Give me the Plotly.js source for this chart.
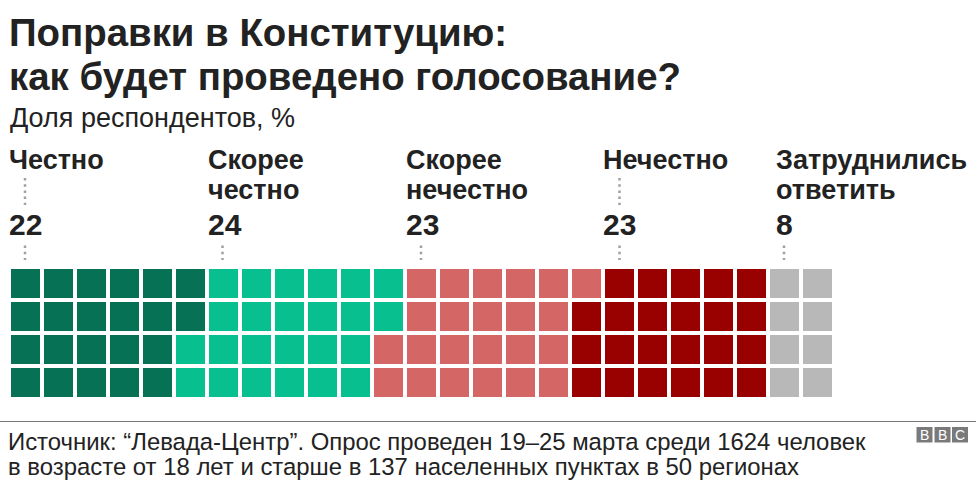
<!DOCTYPE html>
<html><head><meta charset="utf-8">
<script src="https://cdn.plot.ly/plotly-3.0.1.min.js"></script>
<style>html,body{margin:0;padding:0;background:#fff}#c{width:976px;height:485px}</style></head>
<body><div id="c"></div>
<script>
const categories = [["Честно"],["Скорее","честно"],["Скорее","нечестно"],["Нечестно"],["Затруднились","ответить"]];
const values = [22,24,23,23,8];
const colors = ["#067155","#08BF8F","#D46666","#990000","#B8B8B8"];
const labelPx = [8,207,405,602,775];
const leaderPx = [25,222.5,421,619.5,784];
const titleLines = ["Поправки в Конституцию:","как будет проведено голосование?"];
const subtitleText = "Доля респондентов, %";
const sourceLines = ["Источник: “Левада-Центр”. Опрос проведен 19–25 марта среди 1624 человек","в возрасте от 18 лет и старше в 137 населенных пунктах в 50 регионах"];
const ROWS = 4;

const W=976,H=485,L=9,R=834,T=267,B=399;
const px=x=>(x-L)/(R-L), py=y=>(B-y)/(B-T);
const ink="#222222", FF="Liberation Sans, Arial, sans-serif";

let n=0;
const traces=values.map((v,i)=>{
  const xs=[],ys=[];
  for(let k=0;k<v;k++,n++){xs.push(Math.floor(n/ROWS));ys.push(n%ROWS);}
  return {type:"scatter",mode:"markers",x:xs,y:ys,name:categories[i].join(" "),
    marker:{symbol:"square",size:29,color:colors[i],line:{width:0}},hoverinfo:"name"};
});

function note(text,x,y,size,opts={}){
  return Object.assign({text,xref:"paper",yref:"paper",x:px(x),y:py(y),xanchor:"left",yanchor:"middle",
    align:"left",showarrow:false,borderpad:0,font:{family:FF,size,color:ink}},opts);
}
const annotations=[
  note("<b>"+titleLines[0]+"</b>",8,33,38.4),
  note("<b>"+titleLines[1]+"</b>",8,76,38.4),
  note(subtitleText,9,118,27),
  note(sourceLines[0],7,441,23.9),
  note(sourceLines[1],7,466.5,23.9)
];
const shapes=[
  {type:"line",xref:"paper",yref:"paper",x0:px(0),x1:px(976),y0:py(421.5),y1:py(421.5),line:{color:"#777777",width:1}}
];
const dot={color:"#a0a0a0",width:2.5,dash:"2.5px,3.7px"};
categories.forEach((c,i)=>{
  c.forEach((t,j)=>annotations.push(note("<b>"+t+"</b>",labelPx[i],160+30*j,27)));
  annotations.push(note("<b>"+values[i]+"</b>",labelPx[i],224,30));
  if(c.length===1) shapes.push({type:"line",xref:"paper",yref:"paper",x0:px(leaderPx[i]),x1:px(leaderPx[i]),y0:py(178),y1:py(205),line:dot});
  shapes.push({type:"line",xref:"paper",yref:"paper",x0:px(leaderPx[i]),x1:px(leaderPx[i]),y0:py(245.5),y1:py(260),line:dot});
});
[[916.5,932.5,"B"],[934.5,950.5,"B"],[952,968,"C"]].forEach(b=>{
  shapes.push({type:"rect",xref:"paper",yref:"paper",x0:px(b[0]),x1:px(b[1]),y0:py(427),y1:py(442.5),fillcolor:"#7a7a7a",line:{width:0}});
  annotations.push(note(b[2],(b[0]+b[1])/2,435,14,{xanchor:"center",font:{family:FF,size:14,color:"#fff"}}));
});

Plotly.newPlot("c",traces,{
  width:W,height:H,showlegend:false,paper_bgcolor:"#fff",plot_bgcolor:"#fff",
  margin:{l:L,r:W-R,t:T,b:H-B,pad:0},
  xaxis:{range:[-0.5,24.5],visible:false,fixedrange:true},
  yaxis:{range:[3.5,-0.5],visible:false,fixedrange:true},
  annotations,shapes
},{displayModeBar:false,staticPlot:true});
</script></body></html>
